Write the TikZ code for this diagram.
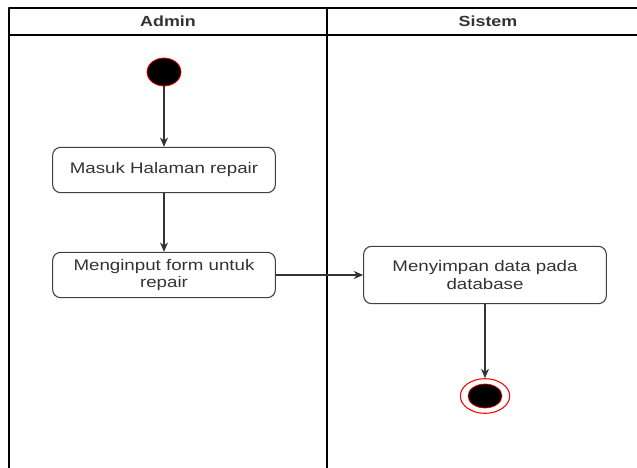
\documentclass[tikz,border=0pt]{standalone}
\usepackage{fontspec}
\setmainfont{Liberation Sans}[FakeStretch=1.22]
\usetikzlibrary{positioning,shapes.geometric,arrows.meta}
\definecolor{txtgray}{HTML}{333333}
\begin{document}
\begin{tikzpicture}[x=0.75pt, y=-0.75pt, font=\fontsize{11.5}{13}\selectfont, line join=round, >={Stealth[length=7pt,width=6pt]}]
  \tikzset{act/.style={draw=black!75, line width=0.8pt, rounded corners=6pt, text=txtgray, align=center, minimum width=167pt, minimum height=34pt},
           flow/.style={->, line width=0.9pt, black!80}}
  \useasboundingbox (0,0) rectangle (637,468);
  % swimlanes
  \draw[line width=1.1pt] (9,468) -- (9,8) -- (640,8) (9,35) -- (640,35) (327,8) -- (327,468);
  \node[font=\fontsize{11}{13}\selectfont\bfseries, text=txtgray] (admin) at (168,21) {Admin};
  \node[font=\fontsize{11}{13}\selectfont\bfseries, text=txtgray] (sistem) at (488,21) {Sistem};
  % nodes
  \node[ellipse, draw=red, fill=black, line width=0.6pt, minimum width=25.5pt, minimum height=21pt, inner sep=0pt] (start) at (164,72) {};
  \node[act] (halaman) at (164,170) {Masuk Halaman repair};
  \node[act] (input) at (164,275) {Menginput form untuk\\repair};
  \node[act, minimum width=182pt, minimum height=43pt] (simpan) at (485,275) {Menyimpan data pada\\database};
  \node[ellipse, draw=red, fill=white, line width=0.8pt, minimum width=37pt, minimum height=26pt, inner sep=0pt] (end) at (485,396) {};
  \node[ellipse, draw=red, fill=black, line width=0.5pt, minimum width=25.5pt, minimum height=18pt, inner sep=0pt] (endin) at (485,396) {};
  % connectors
  \draw[flow] (start) -- (halaman);
  \draw[flow] (halaman) -- (input);
  \draw[flow] (input) -- (simpan);
  \draw[flow] (simpan) -- (end);
\end{tikzpicture}
\end{document}
